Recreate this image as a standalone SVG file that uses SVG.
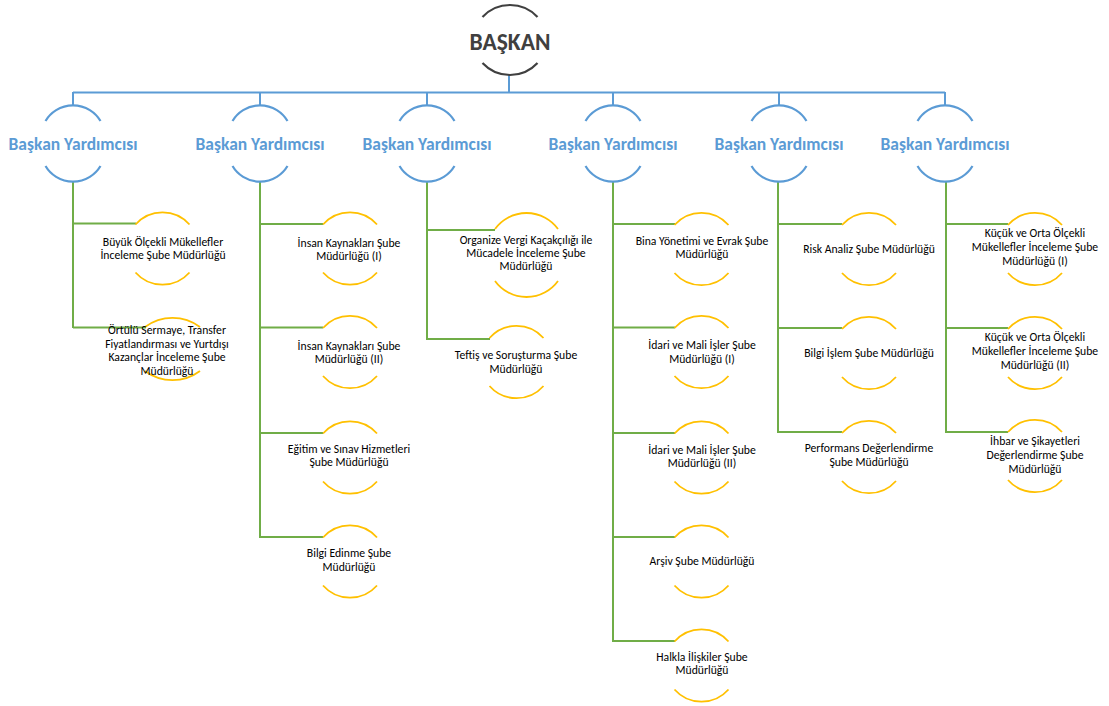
<svg xmlns="http://www.w3.org/2000/svg" width="1109" height="706" viewBox="0 0 1109 706">
<style>
.bg{fill:#ffffff}
.arcK{fill:none;stroke:#404040;stroke-width:2.2}
.arcB{fill:none;stroke:#5b9bd5;stroke-width:2.2}
.arcY{fill:none;stroke:#ffc000;stroke-width:1.8}
.lb{fill:none;stroke:#5b9bd5;stroke-width:2}
.lg{fill:none;stroke:#70ad47;stroke-width:2}
.tk{font-family:Carlito,Lato,"Liberation Sans",sans-serif;font-weight:bold;font-size:23.5px;fill:#404040;text-anchor:middle}
.tb{font-family:Carlito,Lato,"Liberation Sans",sans-serif;font-weight:bold;font-size:17.5px;fill:#5b9bd5;text-anchor:middle}
.t{font-family:Carlito,Lato,"Liberation Sans",sans-serif;font-size:11.7px;fill:#000000;text-anchor:middle}
</style>
<rect class="bg" x="0" y="0" width="1109" height="706"/>
<g id="connectors">
<path class="lb" d="M509,75 V92.5 M73,92.5 H945 M73,92 V105 M260,92 V105 M427,92 V105 M613,92 V105 M779,92 V105 M945,92 V105"/>
<path class="lg" d="M73,181 V328 M73,223.5 H136 M73,327.5 H146"/>
<path class="lg" d="M260,181 V538 M260,224 H323 M260,327.5 H323 M260,433 H323 M260,537 H323"/>
<path class="lg" d="M427,181 V340 M427,230 H495 M427,339 H490"/>
<path class="lg" d="M613,181 V642 M613,224 H675 M613,327.5 H675 M613,433 H675 M613,537 H675 M613,641 H675"/>
<path class="lg" d="M778,181 V433 M778,224 H842 M778,328 H842 M778,432 H842"/>
<path class="lg" d="M946,181 V433 M946,224 H1008 M946,328 H1008 M946,432 H1008"/>
</g>
<g id="baskan">
<path class="arcK" d="M482.5,17 A37.5 37.5 0 0 1 537.5,17 M482.5,63 A37.5 37.5 0 0 0 537.5,63"/>
<text class="tk" x="510" y="50">BAŞKAN</text>
</g>
<g id="by1"><path class="arcB" d="M45.5,121 A32 32 0 0 1 100.5,121 M45.5,166 A32 32 0 0 0 100.5,166"/><text class="tb" x="73" y="150">Başkan Yardımcısı</text></g>
<g id="by2"><path class="arcB" d="M232.5,121 A32 32 0 0 1 287.5,121 M232.5,166 A32 32 0 0 0 287.5,166"/><text class="tb" x="260" y="150">Başkan Yardımcısı</text></g>
<g id="by3"><path class="arcB" d="M399.5,121 A32 32 0 0 1 454.5,121 M399.5,166 A32 32 0 0 0 454.5,166"/><text class="tb" x="427" y="150">Başkan Yardımcısı</text></g>
<g id="by4"><path class="arcB" d="M585.5,121 A32 32 0 0 1 640.5,121 M585.5,166 A32 32 0 0 0 640.5,166"/><text class="tb" x="613" y="150">Başkan Yardımcısı</text></g>
<g id="by5"><path class="arcB" d="M751.5,121 A32 32 0 0 1 806.5,121 M751.5,166 A32 32 0 0 0 806.5,166"/><text class="tb" x="779" y="150">Başkan Yardımcısı</text></g>
<g id="by6"><path class="arcB" d="M917.5,121 A32 32 0 0 1 972.5,121 M917.5,166 A32 32 0 0 0 972.5,166"/><text class="tb" x="945" y="150">Başkan Yardımcısı</text></g>

<g id="n1a"><path class="arcY" d="M135.5,224.5 A36 36 0 0 1 189.5,224.5 M135.5,272.5 A36 36 0 0 0 189.5,272.5"/><text class="t" x="163" y="246">Büyük Ölçekli Mükellefler</text><text class="t" x="163" y="259">İnceleme Şube Müdürlüğü</text></g>
<g id="n1b"><path class="arcY" d="M145,327 A46 46 0 0 1 200,327 M145,371 A46 46 0 0 0 200,371"/><text class="t" x="167" y="334">Örtülü Sermaye, Transfer</text><text class="t" x="167" y="347.5">Fiyatlandırması ve Yurtdışı</text><text class="t" x="167" y="361">Kazançlar İnceleme Şube</text><text class="t" x="167" y="374.5">Müdürlüğü</text></g>

<g id="n2a"><path class="arcY" d="M323,224.5 A36 36 0 0 1 377,224.5 M323,272.5 A36 36 0 0 0 377,272.5"/><text class="t" x="349" y="247">İnsan Kaynakları Şube</text><text class="t" x="349" y="259.5">Müdürlüğü (I)</text></g>
<g id="n2b"><path class="arcY" d="M323,328 A36 36 0 0 1 377,328 M323,376 A36 36 0 0 0 377,376"/><text class="t" x="349" y="350">İnsan Kaynakları Şube</text><text class="t" x="349" y="363">Müdürlüğü (II)</text></g>
<g id="n2c"><path class="arcY" d="M323,433.5 A36 36 0 0 1 377,433.5 M323,481.5 A36 36 0 0 0 377,481.5"/><text class="t" x="349" y="453">Eğitim ve Sınav Hizmetleri</text><text class="t" x="349" y="466">Şube Müdürlüğü</text></g>
<g id="n2d"><path class="arcY" d="M323,537.5 A36 36 0 0 1 377,537.5 M323,585.5 A36 36 0 0 0 377,585.5"/><text class="t" x="349" y="557">Bilgi Edinme Şube</text><text class="t" x="349" y="570.5">Müdürlüğü</text></g>

<g id="n3a"><path class="arcY" d="M495,229 A39 39 0 0 1 558,229 M495,281 A39 39 0 0 0 558,281"/><text class="t" x="526" y="244">Organize Vergi Kaçakçılığı ile</text><text class="t" x="526" y="257">Mücadele İnceleme Şube</text><text class="t" x="526" y="270">Müdürlüğü</text></g>
<g id="n3b"><path class="arcY" d="M489.5,338 A36 36 0 0 1 543.5,338 M489.5,386 A36 36 0 0 0 543.5,386"/><text class="t" x="516" y="359">Teftiş ve Soruşturma Şube</text><text class="t" x="516" y="373">Müdürlüğü</text></g>

<g id="n4a"><path class="arcY" d="M674.5,225 A36 36 0 0 1 728.5,225 M674.5,273 A36 36 0 0 0 728.5,273"/><text class="t" x="702" y="245">Bina Yönetimi ve Evrak Şube</text><text class="t" x="702" y="258">Müdürlüğü</text></g>
<g id="n4b"><path class="arcY" d="M674.5,328 A36 36 0 0 1 728.5,328 M674.5,376 A36 36 0 0 0 728.5,376"/><text class="t" x="702" y="349">İdari ve Mali İşler Şube</text><text class="t" x="702" y="363">Müdürlüğü (I)</text></g>
<g id="n4c"><path class="arcY" d="M674.5,433.5 A36 36 0 0 1 728.5,433.5 M674.5,481.5 A36 36 0 0 0 728.5,481.5"/><text class="t" x="702" y="454">İdari ve Mali İşler Şube</text><text class="t" x="702" y="467">Müdürlüğü (II)</text></g>
<g id="n4d"><path class="arcY" d="M674.5,537.5 A36 36 0 0 1 728.5,537.5 M674.5,585.5 A36 36 0 0 0 728.5,585.5"/><text class="t" x="702" y="565">Arşiv Şube Müdürlüğü</text></g>
<g id="n4e"><path class="arcY" d="M674.5,641.5 A36 36 0 0 1 728.5,641.5 M674.5,689.5 A36 36 0 0 0 728.5,689.5"/><text class="t" x="702" y="661">Halkla İlişkiler Şube</text><text class="t" x="702" y="674">Müdürlüğü</text></g>

<g id="n5a"><path class="arcY" d="M842,225 A36 36 0 0 1 896,225 M842,273 A36 36 0 0 0 896,273"/><text class="t" x="869" y="253">Risk Analiz Şube Müdürlüğü</text></g>
<g id="n5b"><path class="arcY" d="M842,329 A36 36 0 0 1 896,329 M842,377 A36 36 0 0 0 896,377"/><text class="t" x="869" y="357">Bilgi İşlem Şube Müdürlüğü</text></g>
<g id="n5c"><path class="arcY" d="M842,433 A36 36 0 0 1 896,433 M842,481 A36 36 0 0 0 896,481"/><text class="t" x="869" y="452">Performans Değerlendirme</text><text class="t" x="869" y="466">Şube Müdürlüğü</text></g>

<g id="n6a"><path class="arcY" d="M1008,225 A36 36 0 0 1 1062,225 M1008,273 A36 36 0 0 0 1062,273"/><text class="t" x="1035" y="237">Küçük ve Orta Ölçekli</text><text class="t" x="1035" y="251">Mükellefler İnceleme Şube</text><text class="t" x="1035" y="265">Müdürlüğü (I)</text></g>
<g id="n6b"><path class="arcY" d="M1008,329 A36 36 0 0 1 1062,329 M1008,377 A36 36 0 0 0 1062,377"/><text class="t" x="1035" y="341">Küçük ve Orta Ölçekli</text><text class="t" x="1035" y="355">Mükellefler İnceleme Şube</text><text class="t" x="1035" y="369">Müdürlüğü (II)</text></g>
<g id="n6c"><path class="arcY" d="M1008,432 A36 36 0 0 1 1062,432 M1008,480 A36 36 0 0 0 1062,480"/><text class="t" x="1035" y="445">İhbar ve Şikayetleri</text><text class="t" x="1035" y="459">Değerlendirme Şube</text><text class="t" x="1035" y="473">Müdürlüğü</text></g>
</svg>
